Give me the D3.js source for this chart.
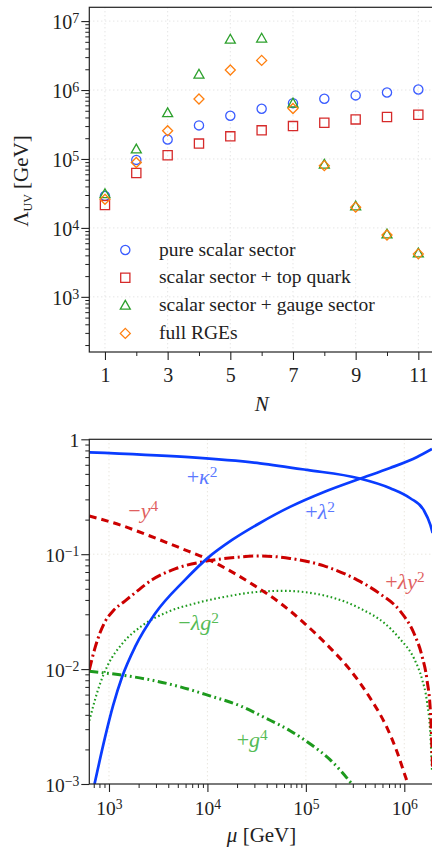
<!DOCTYPE html>
<html>
<head>
<meta charset="utf-8">
<script src="https://cdn.jsdelivr.net/npm/d3@7"></script>
<style>
  body { margin: 0; background: #fff; }
  svg { display: block; }
  svg text { font-family: "Liberation Serif", "Times New Roman", serif; }
</style>
</head>
<body>
<svg id="chart" width="432" height="850"></svg>
<script>
// ---------- Upper panel: cutoff scale Lambda_UV versus N ----------
const nValues     = [1, 2, 3, 4, 5, 6, 7, 8, 9, 10, 11];
const pureScalar  = [2.9e4, 9.7e4, 1.92e5, 3.07e5, 4.24e5, 5.36e5, 6.45e5, 7.48e5, 8.36e5, 9.2e5, 1.02e6];
const scalarTop   = [2.15e4, 6.27e4, 1.13e5, 1.67e5, 2.13e5, 2.6e5, 3.0e5, 3.36e5, 3.75e5, 4.06e5, 4.38e5];
const scalarGauge = [3.1e4, 1.38e5, 4.64e5, 1.68e6, 5.41e6, 5.6e6, 6.4e5, 8.3e4, 2.06e4, 8.07e3, 4.28e3];
const fullRGE     = [2.6e4, 8.9e4, 2.57e5, 7.4e5, 1.95e6, 2.69e6, 5.4e5, 8.0e4, 2.0e4, 7.9e3, 4.2e3];
const legendLabels = ["pure scalar sector", "scalar sector + top quark", "scalar sector + gauge sector", "full RGEs"];
const nTickLabels = [1, 3, 5, 7, 9, 11];
const lambdaTickExps = [3, 4, 5, 6, 7];

// ---------- Lower panel: beta-function contributions versus mu ----------
const muTickExps = [3, 4, 5, 6];
const coeffTickExps = [0, -1, -2, -3];
// [mu in GeV, magnitude]
const kappaSq = [[631, 0.771], [5.92e3, 0.702], [3.42e4, 0.618], [1.03e5, 0.541], [3.44e5, 0.458],
  [7.21e5, 0.375], [1.15e6, 0.307], [1.57e6, 0.243], [1.84e6, 0.180], [1.94e6, 0.153]];
const lambdaSq = [[713, 1.0e-3], [910, 2.53e-3], [1.10e3, 4.80e-3], [1.36e3, 8.57e-3], [1.84e3, 1.56e-2],
  [2.93e3, 3.03e-2], [5.92e3, 5.98e-2], [1.01e4, 9.29e-2], [1.78e4, 0.133], [3.42e4, 0.187],
  [6.90e4, 0.258], [1.53e5, 0.348], [3.47e5, 0.451], [7.16e5, 0.562], [1.35e6, 0.702], [1.91e6, 0.824]];
const yukawa4 = [[631, 0.215], [1.29e3, 0.180], [2.61e3, 0.144], [5.26e3, 0.1135], [9.91e3, 0.0910],
  [1.70e4, 0.0716], [3.04e4, 0.0530], [5.46e4, 0.0377], [9.80e4, 0.0248], [1.76e5, 0.0153],
  [2.81e5, 9.86e-3], [4.48e5, 5.63e-3], [6.67e5, 3.09e-3], [8.43e5, 1.91e-3], [1.02e6, 1.18e-3], [1.09e6, 1.0e-3]];
const lambdaYukawa2 = [[631, 9.86e-3], [721, 1.53e-2], [811, 2.07e-2], [910, 2.58e-2], [1.10e3, 3.21e-2],
  [1.46e3, 3.93e-2], [1.84e3, 4.61e-2], [2.74e3, 5.98e-2], [4.69e3, 7.45e-2], [1.01e4, 8.75e-2],
  [1.91e4, 9.38e-2], [3.42e4, 9.66e-2], [6.90e4, 9.19e-2], [1.53e5, 7.91e-2], [3.31e5, 5.98e-2],
  [5.66e5, 4.52e-2], [9.04e5, 3.21e-2], [1.26e6, 2.03e-2], [1.51e6, 1.31e-2], [1.70e6, 8.07e-3],
  [1.85e6, 4.01e-3], [1.94e6, 1.33e-3]];
const lambdaGauge2 = [[631, 3.55e-3], [721, 5.41e-3], [811, 7.45e-3], [977, 1.09e-2], [1.36e3, 1.66e-2],
  [2.16e3, 2.38e-2], [3.97e3, 3.15e-2], [7.48e3, 3.73e-2], [1.51e4, 4.26e-2], [3.26e4, 4.70e-2],
  [6.00e4, 4.80e-2], [1.10e5, 4.61e-2], [2.44e5, 3.89e-2], [3.80e5, 3.28e-2], [6.22e5, 2.53e-2],
  [9.04e5, 1.83e-2], [1.26e6, 1.23e-2], [1.51e6, 8.24e-3], [1.70e6, 5.20e-3], [1.84e6, 2.69e-3], [1.91e6, 1.33e-3]];
const gauge4 = [[631, 9.57e-3], [1.29e3, 8.91e-3], [2.61e3, 8.07e-3], [5.26e3, 7.02e-3], [1.06e4, 5.85e-3],
  [2.14e4, 4.80e-3], [3.85e4, 3.77e-3], [6.90e4, 2.91e-3], [1.10e5, 2.24e-3], [1.76e5, 1.63e-3], [2.94e5, 1.0e-3]];
// label anchors [mu, magnitude] at the start of each label's baseline
const curveLabelAt = {
  kappa: [6.15e3, 0.409], yuk: [1.57e3, 0.207], lam: [9.86e4, 0.203],
  lamYuk: [6.41e5, 0.0499], lamGauge: [5.06e3, 0.0220], g4: [1.98e4, 2.11e-3]
};

const FONT = "Liberation Serif, Times New Roman, serif";
const svg = d3.select("#chart");

function addPower(textSel, base, exp) {
  textSel.text(null);
  textSel.append("tspan").text(base);
  textSel.append("tspan").attr("dy", "-0.42em").attr("font-size", "0.7em").text(exp);
}
function styleAxis(g, size) {
  g.attr("font-family", FONT);
  g.select(".domain").remove();
  g.selectAll("line").attr("stroke", "#222");
  g.selectAll("text").attr("font-size", size).attr("font-family", FONT).attr("fill", "#222");
}

// =================== Upper panel ===================
const P1 = { left: 89.3, right: 434, top: 7.3, bottom: 352 };
const xN = d3.scaleLinear().domain([0.5, 11.5]).range([P1.left, P1.right]);
const yL = d3.scaleLog().domain([10 ** 2.2, 10 ** 7.2]).range([P1.bottom, P1.top]);

const g1 = svg.append("g");
// dotted grid
g1.append("g").selectAll("line").data(lambdaTickExps).join("line")
  .attr("x1", P1.left).attr("x2", P1.right)
  .attr("y1", d => yL(10 ** d)).attr("y2", d => yL(10 ** d))
  .attr("stroke", "#d6d6d6").attr("stroke-width", 0.9).attr("stroke-dasharray", "1,3");
g1.append("g").selectAll("line").data(nTickLabels).join("line")
  .attr("x1", d => xN(d)).attr("x2", d => xN(d))
  .attr("y1", P1.top).attr("y2", P1.bottom)
  .attr("stroke", "#d6d6d6").attr("stroke-width", 0.9).attr("stroke-dasharray", "1,3");

// minor y ticks
const yMinor1 = [];
for (let e = 2; e <= 7; e++) for (let k = 2; k <= 9; k++) {
  const v = k * 10 ** e; if (v >= yL.domain()[0] && v <= yL.domain()[1]) yMinor1.push(v);
}
g1.append("g").attr("transform", `translate(${P1.left},0)`)
  .call(d3.axisLeft(yL).tickValues(yMinor1).tickSize(4).tickFormat(() => ""))
  .call(g => styleAxis(g, 20));
g1.append("g").attr("transform", `translate(${P1.left},0)`)
  .call(d3.axisLeft(yL).tickValues(lambdaTickExps.map(e => 10 ** e)).tickSize(8).tickPadding(2))
  .call(g => styleAxis(g, 20))
  .call(g => g.selectAll("line").attr("stroke-width", 1.1))
  .call(g => g.selectAll("text").attr("dy", "0.36em")
    .each(function (d) { addPower(d3.select(this), "10", String(Math.round(Math.log10(d)))); }));

// x ticks (even N minor, odd N labelled)
g1.append("g").attr("transform", `translate(0,${P1.bottom})`)
  .call(d3.axisBottom(xN).tickValues(nValues.filter(n => n % 2 === 0)).tickSize(4).tickFormat(() => ""))
  .call(g => styleAxis(g, 20));
g1.append("g").attr("transform", `translate(0,${P1.bottom})`)
  .call(d3.axisBottom(xN).tickValues(nTickLabels).tickSize(8).tickFormat(d3.format("d")))
  .call(g => styleAxis(g, 20))
  .call(g => g.selectAll("line").attr("stroke-width", 1.1))
  .call(g => g.selectAll("text").attr("y", 30).attr("dy", 0));

// frame
g1.append("rect").attr("x", P1.left).attr("y", P1.top)
  .attr("width", P1.right - P1.left).attr("height", P1.bottom - P1.top)
  .attr("fill", "none").attr("stroke", "#222").attr("stroke-width", 1.2);

// axis titles
g1.append("text").attr("x", xN(6)).attr("y", 411).attr("text-anchor", "middle")
  .attr("font-family", FONT).attr("font-size", 21).attr("font-style", "italic").attr("fill", "#222").text("N");
const yt = g1.append("text").attr("transform", "translate(28,181) rotate(-90)")
  .attr("text-anchor", "middle").attr("font-family", FONT).attr("font-size", 21).attr("fill", "#222");
yt.append("tspan").text("Λ");
yt.append("tspan").attr("font-size", 12).attr("dy", 4).text("UV");
yt.append("tspan").attr("dy", -4).text(" [GeV]");

// marker shapes
const markerStyles = [
  { data: pureScalar,  color: "#3a5cff", shape: "circle" },
  { data: scalarTop,   color: "#d62a2a", shape: "square" },
  { data: scalarGauge, color: "#2ca02c", shape: "triangle" },
  { data: fullRGE,     color: "#ff7f0e", shape: "diamond" }
];
const shapePath = {
  circle:   "M4.6,0A4.6,4.6 0 1,1 -4.6,0A4.6,4.6 0 1,1 4.6,0Z",
  square:   "M-4.6,-4.6H4.6V4.6H-4.6Z",
  triangle: "M0,-5.2L5,3.6H-5Z",
  diamond:  "M0,-5L5,0L0,5L-5,0Z"
};
markerStyles.forEach(s => {
  g1.append("g").selectAll("path").data(nValues.map((n, i) => [n, s.data[i]])).join("path")
    .attr("transform", d => `translate(${xN(d[0])},${yL(d[1])})`)
    .attr("d", shapePath[s.shape])
    .attr("fill", "none").attr("stroke", s.color).attr("stroke-width", 1.3);
});

// legend
const legend = g1.append("g");
legendLabels.forEach((lab, i) => {
  const cy = 250 + i * 27.8;
  legend.append("path").attr("transform", `translate(125.3,${cy})`)
    .attr("d", shapePath[markerStyles[i].shape])
    .attr("fill", "none").attr("stroke", markerStyles[i].color).attr("stroke-width", 1.3);
  legend.append("text").attr("x", 159).attr("y", cy + 5.5)
    .attr("font-family", FONT).attr("font-size", 19.5).attr("fill", "#222").text(lab);
});

// =================== Lower panel ===================
const P2 = { left: 89.3, right: 433, top: 439.3, bottom: 784 };
const xMu = d3.scaleLog().domain([10 ** 2.8, 10 ** 6.2916]).range([P2.left, P2.right]);
const yC = d3.scaleLog().domain([1e-3, 1]).range([P2.bottom, P2.top]);
const g2 = svg.append("g");

// dotted grid
g2.append("g").selectAll("line").data([-1, -2]).join("line")
  .attr("x1", P2.left).attr("x2", P2.right)
  .attr("y1", d => yC(10 ** d)).attr("y2", d => yC(10 ** d))
  .attr("stroke", "#ddd8cc").attr("stroke-width", 0.9).attr("stroke-dasharray", "1,3");
g2.append("g").selectAll("line").data(muTickExps).join("line")
  .attr("x1", d => xMu(10 ** d)).attr("x2", d => xMu(10 ** d))
  .attr("y1", P2.top).attr("y2", P2.bottom)
  .attr("stroke", "#ddd8cc").attr("stroke-width", 0.9).attr("stroke-dasharray", "1,3");

// y ticks
const yMinor2 = [];
for (let e = -3; e <= -1; e++) for (let k = 2; k <= 9; k++) yMinor2.push(k * 10 ** e);
g2.append("g").attr("transform", `translate(${P2.left},0)`)
  .call(d3.axisLeft(yC).tickValues(yMinor2).tickSize(4).tickFormat(() => ""))
  .call(g => styleAxis(g, 19.5));
g2.append("g").attr("transform", `translate(${P2.left},0)`)
  .call(d3.axisLeft(yC).tickValues(coeffTickExps.map(e => 10 ** e)).tickSize(8).tickPadding(2))
  .call(g => styleAxis(g, 19.5))
  .call(g => g.selectAll("line").attr("stroke-width", 1.1))
  .call(g => g.selectAll("text").attr("dy", "0.36em").each(function (d) {
      const e = Math.round(Math.log10(d));
      if (e === 0) d3.select(this).text("1");
      else addPower(d3.select(this), "10", "−" + Math.abs(e));
    }));

// x ticks
const xMinor2 = [];
for (let e = 2; e <= 6; e++) for (let k = 2; k <= 9; k++) {
  const v = k * 10 ** e; if (v >= xMu.domain()[0] && v <= xMu.domain()[1]) xMinor2.push(v);
}
g2.append("g").attr("transform", `translate(0,${P2.bottom})`)
  .call(d3.axisBottom(xMu).tickValues(xMinor2).tickSize(4).tickFormat(() => ""))
  .call(g => styleAxis(g, 19.5));
g2.append("g").attr("transform", `translate(0,${P2.bottom})`)
  .call(d3.axisBottom(xMu).tickValues(muTickExps.map(e => 10 ** e)).tickSize(8))
  .call(g => styleAxis(g, 19.5))
  .call(g => g.selectAll("line").attr("stroke-width", 1.1))
  .call(g => g.selectAll("text").attr("y", 31).attr("dy", 0)
    .each(function (d) { addPower(d3.select(this), "10", String(Math.round(Math.log10(d)))); }));

// curves
g2.append("clipPath").attr("id", "clip2").append("rect")
  .attr("x", P2.left).attr("y", P2.top).attr("width", P2.right - P2.left).attr("height", P2.bottom - P2.top);
const line2 = d3.line().x(d => xMu(d[0])).y(d => yC(d[1])).curve(d3.curveMonotoneX);
const curves = [
  { data: lambdaGauge2,  color: "#1d9a1d", width: 2.1, dash: "1.6,2.6" },
  { data: gauge4,        color: "#1d9a1d", width: 3,   dash: "9,3.5,1.8,3.5,1.8,3.5" },
  { data: yukawa4,       color: "#cc0000", width: 3,   dash: "7.5,5" },
  { data: lambdaYukawa2, color: "#cc0000", width: 3,   dash: "10,3.5,2,3.5" },
  { data: kappaSq,       color: "#0a3cff", width: 2.7, dash: null },
  { data: lambdaSq,      color: "#0a3cff", width: 2.7, dash: null }
];
const cg = g2.append("g").attr("clip-path", "url(#clip2)");
curves.forEach(c => {
  cg.append("path").attr("d", line2(c.data)).attr("fill", "none")
    .attr("stroke", c.color).attr("stroke-width", c.width)
    .attr("stroke-dasharray", c.dash);
});

// frame
g2.append("rect").attr("x", P2.left).attr("y", P2.top)
  .attr("width", P2.right - P2.left).attr("height", P2.bottom - P2.top)
  .attr("fill", "none").attr("stroke", "#222").attr("stroke-width", 1.2);

// curve labels
function curveLabel(at, color, parts) {
  const t = g2.append("text").attr("x", xMu(at[0])).attr("y", yC(at[1]))
    .attr("font-family", FONT).attr("font-size", 22).attr("fill", color);
  parts.forEach(p => {
    const s = t.append("tspan").text(p.t);
    if (p.i) s.attr("font-style", "italic");
    if (p.sup) s.attr("dy", "-0.42em").attr("font-size", "0.7em");
  });
}
curveLabel(curveLabelAt.kappa, "#5a78ff", [{ t: "+" }, { t: "κ", i: true }, { t: "2", sup: true }]);
curveLabel(curveLabelAt.yuk, "#e06060", [{ t: "−" }, { t: "y", i: true }, { t: "4", sup: true }]);
curveLabel(curveLabelAt.lam, "#5a78ff", [{ t: "+" }, { t: "λ", i: true }, { t: "2", sup: true }]);
curveLabel(curveLabelAt.lamYuk, "#e06060", [{ t: "+" }, { t: "λy", i: true }, { t: "2", sup: true }]);
curveLabel(curveLabelAt.lamGauge, "#55bb55", [{ t: "−" }, { t: "λg", i: true }, { t: "2", sup: true }]);
curveLabel(curveLabelAt.g4, "#55bb55", [{ t: "+" }, { t: "g", i: true }, { t: "4", sup: true }]);

// axis titles
const xt = g2.append("text").attr("x", xMu(10 ** 4.55)).attr("y", 842).attr("text-anchor", "middle")
  .attr("font-family", FONT).attr("font-size", 21).attr("fill", "#222");
xt.append("tspan").attr("font-style", "italic").text("μ");
xt.append("tspan").text(" [GeV]");
</script>
</body>
</html>
